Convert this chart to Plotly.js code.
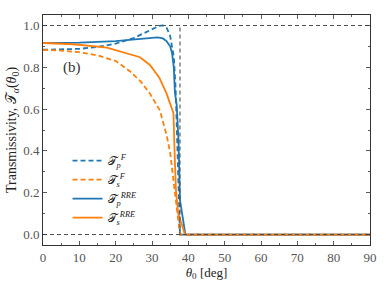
<!DOCTYPE html>
<html>
<head>
<meta charset="utf-8">
<script src="https://cdn.plot.ly/plotly-3.0.1.min.js"></script>
<style>html,body{margin:0;padding:0;background:#fff;}#chart{width:390px;height:282px;}</style>
</head>
<body>
<div id="chart"></div>
<script>
// Fresnel p-polarisation
const fpX = [0, 5, 10, 15, 20, 25, 28, 30, 32, 33, 34, 35, 36, 36.5, 37, 37.5, 37.7, 40, 60, 90];
const fpY = [0.884, 0.885, 0.888, 0.897, 0.913, 0.94, 0.965, 0.985, 0.998, 1.0, 0.99, 0.95, 0.85, 0.7, 0.45, 0.15, 0, 0, 0, 0];
// Fresnel s-polarisation
const fsX = [0, 5, 10, 15, 20, 24, 27, 29.5, 32.2, 33.1, 34.1, 35, 36.3, 37.3, 37.7, 40, 60, 90];
const fsY = [0.883, 0.88, 0.872, 0.857, 0.83, 0.78, 0.73, 0.672, 0.593, 0.53, 0.47, 0.39, 0.21, 0.055, 0, 0, 0, 0];
// RRE p-polarisation
const rpX = [0, 10, 20, 25, 30, 31.5, 33, 34, 35, 35.5, 36, 36.3, 36.8, 37.3, 37.7, 38.4, 39.2, 45, 60, 90];
const rpY = [0.916, 0.918, 0.925, 0.932, 0.94, 0.943, 0.938, 0.925, 0.9, 0.87, 0.8, 0.68, 0.62, 0.45, 0.165, 0.08, 0, 0, 0, 0];
// RRE s-polarisation
const rsX = [0, 8.4, 17.6, 20, 24, 26.7, 29.5, 32, 34, 35.9, 36.3, 36.6, 37.2, 38.2, 39.1, 45, 60, 90];
const rsY = [0.916, 0.91, 0.894, 0.882, 0.862, 0.848, 0.81, 0.75, 0.675, 0.58, 0.35, 0.21, 0.1, 0.05, 0, 0, 0, 0];
// reference limits
const critAngle = 37.7;
const limX = [0, 90];

const blue = '#1f77b4', orange = '#ff7f0e', grey = '#505050';
const traces = [
  {x: fpX, y: fpY, mode: 'lines', name: '𝒯<sub><i>p</i></sub><sup><i>F</i></sup>', line: {color: blue, width: 1.8, dash: '5px,3px'}},
  {x: fsX, y: fsY, mode: 'lines', name: '𝒯<sub><i>s</i></sub><sup><i>F</i></sup>', line: {color: orange, width: 1.8, dash: '5px,3px'}},
  {x: rpX, y: rpY, mode: 'lines', name: '𝒯<sub><i>p</i></sub><sup><i>RRE</i></sup>', line: {color: blue, width: 1.8}},
  {x: rsX, y: rsY, mode: 'lines', name: '𝒯<sub><i>s</i></sub><sup><i>RRE</i></sup>', line: {color: orange, width: 1.8}},
  {x: limX, y: [1, 1], mode: 'lines', showlegend: false, line: {color: grey, width: 1.1, dash: '4px,3px'}},
  {x: limX, y: [0, 0], mode: 'lines', showlegend: false, line: {color: grey, width: 1.1, dash: '4px,3px'}},
  {x: [critAngle, critAngle], y: [0, 1], mode: 'lines', showlegend: false, line: {color: grey, width: 1.1, dash: '4px,3px'}}
];

const axisCommon = {
  showgrid: false, zeroline: false, showline: true, linecolor: '#333', linewidth: 1,
  mirror: 'allticks', ticks: 'inside', ticklen: 4, tickcolor: '#333', tickwidth: 0.8,
  tickfont: {family: 'Liberation Serif, DejaVu Serif, serif', size: 13, color: '#555'}
};

const layout = {
  width: 390, height: 282,
  margin: {l: 43, r: 20, t: 15, b: 37},
  paper_bgcolor: '#fff', plot_bgcolor: '#fff',
  font: {family: 'Liberation Serif, DejaVu Serif, serif', color: '#222'},
  xaxis: Object.assign({}, axisCommon, {
    range: [0, 90], dtick: 10, tick0: 0,
    minor: {dtick: 5, ticks: 'inside', ticklen: 2, tickcolor: '#333'},
    title: {text: '<i>θ</i><sub>0</sub> [deg]', font: {size: 13, color: '#222'}, standoff: 2}
  }),
  yaxis: Object.assign({}, axisCommon, {
    range: [-0.05, 1.05], dtick: 0.2, tick0: 0, tickformat: '.1f',
    minor: {dtick: 0.1, ticks: 'inside', ticklen: 2, tickcolor: '#333'},
    title: {text: 'Transmissivity, 𝒯<sub><i>α</i></sub>(<i>θ</i><sub>0</sub>)', font: {size: 14, color: '#222'}, standoff: 3}
  }),
  legend: {
    x: 0.075, y: 0.43, xanchor: 'left', yanchor: 'top',
    bgcolor: 'rgba(255,255,255,0)', borderwidth: 0,
    font: {family: 'Liberation Serif, DejaVu Serif, serif', size: 12, color: '#222'},
    tracegroupgap: 0, itemwidth: 30
  },
  annotations: [{
    x: 8, y: 0.8, xref: 'x', yref: 'y', text: '(b)', showarrow: false,
    font: {family: 'Liberation Serif, DejaVu Serif, serif', size: 15, color: '#333'}
  }],
  showlegend: true
};

Plotly.newPlot('chart', traces, layout, {staticPlot: true, displayModeBar: false});
</script>
</body>
</html>
